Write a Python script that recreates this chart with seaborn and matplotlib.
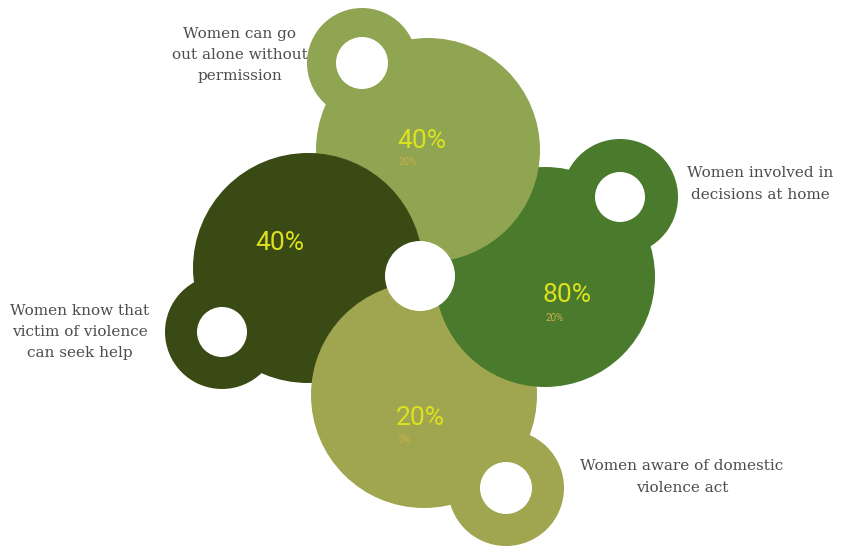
import matplotlib
matplotlib.use("Agg")
import matplotlib.pyplot as plt
from matplotlib.patches import Circle
import seaborn as sns

# ---- data ----
categories = [
    "Women can go\nout alone without\npermission",
    "Women involved in\ndecisions at home",
    "Women aware of domestic\nviolence act",
    "Women know that\nvictim of violence\ncan seek help",
]
main_pct = [40, 80, 20, 40]
sub_pct = [20, 20, 0, None]
colors = ["#8fa552", "#4a7a2c", "#a0a550", "#3a4a14"]

# ---- layout (pixel coordinates) ----
big_centers = [(428, 150), (545, 277), (424, 395), (308, 268)]
big_r = [112, 110, 113, 115]
small_centers = [(362, 63), (620, 197), (506, 488), (222, 332)]
small_r = [55, 58, 58, 57]
hole_r = [26, 25, 26, 25]
main_txt_pos = [(422, 141), (567, 295), (420, 418), (280, 243)]
sub_txt_pos = [(408, 162), (555, 318), (405, 440), None]
label_pos = [(240, 55), (760, 184), (682, 477), (80, 332)]

sns.set_theme(style="white")
plt.rcParams["font.family"] = ["DejaVu Sans"]

fig = plt.figure(figsize=(8.54, 5.56), dpi=100)
ax = fig.add_axes([0, 0, 1, 1])
ax.set_xlim(0, 854)
ax.set_ylim(556, 0)
ax.set_aspect("equal")
ax.axis("off")

# draw order: left, bottom, right, top
order = [3, 2, 1, 0]
for z, i in enumerate(order):
    ax.add_patch(Circle(small_centers[i], small_r[i], color=colors[i], lw=0, zorder=2 + z))
    ax.add_patch(Circle(big_centers[i], big_r[i], color=colors[i], lw=0, zorder=2 + z))
    ax.add_patch(Circle(small_centers[i], hole_r[i], color="white", lw=0, zorder=10))

# left circle over top circle (cyclic overlap)
clip = Circle(big_centers[0], big_r[0] + 1.5, transform=ax.transData)
redraw = Circle(big_centers[3], big_r[3], color=colors[3], lw=0, zorder=7)
ax.add_patch(redraw)
redraw.set_clip_path(clip)

# central white circle
ax.add_patch(Circle((420, 276), 35, color="white", lw=0, zorder=11))

for i in range(4):
    ax.text(*main_txt_pos[i], f"{main_pct[i]}%", color="#dde21e", fontsize=19,
            family=["Roboto", "DejaVu Sans"], ha="center", va="center", zorder=12)
    if sub_pct[i] is not None:
        ax.text(*sub_txt_pos[i], f"{sub_pct[i]}%", color="#c9b04a", fontsize=7,
                family=["Roboto", "DejaVu Sans"], ha="center", va="center", zorder=12)
    ax.text(*label_pos[i], categories[i], color="#4d4d4d", fontsize=11,
            family=["DejaVu Serif"], ha="center", va="center", linespacing=1.65, zorder=12)

fig.savefig("out.png", dpi=100)
